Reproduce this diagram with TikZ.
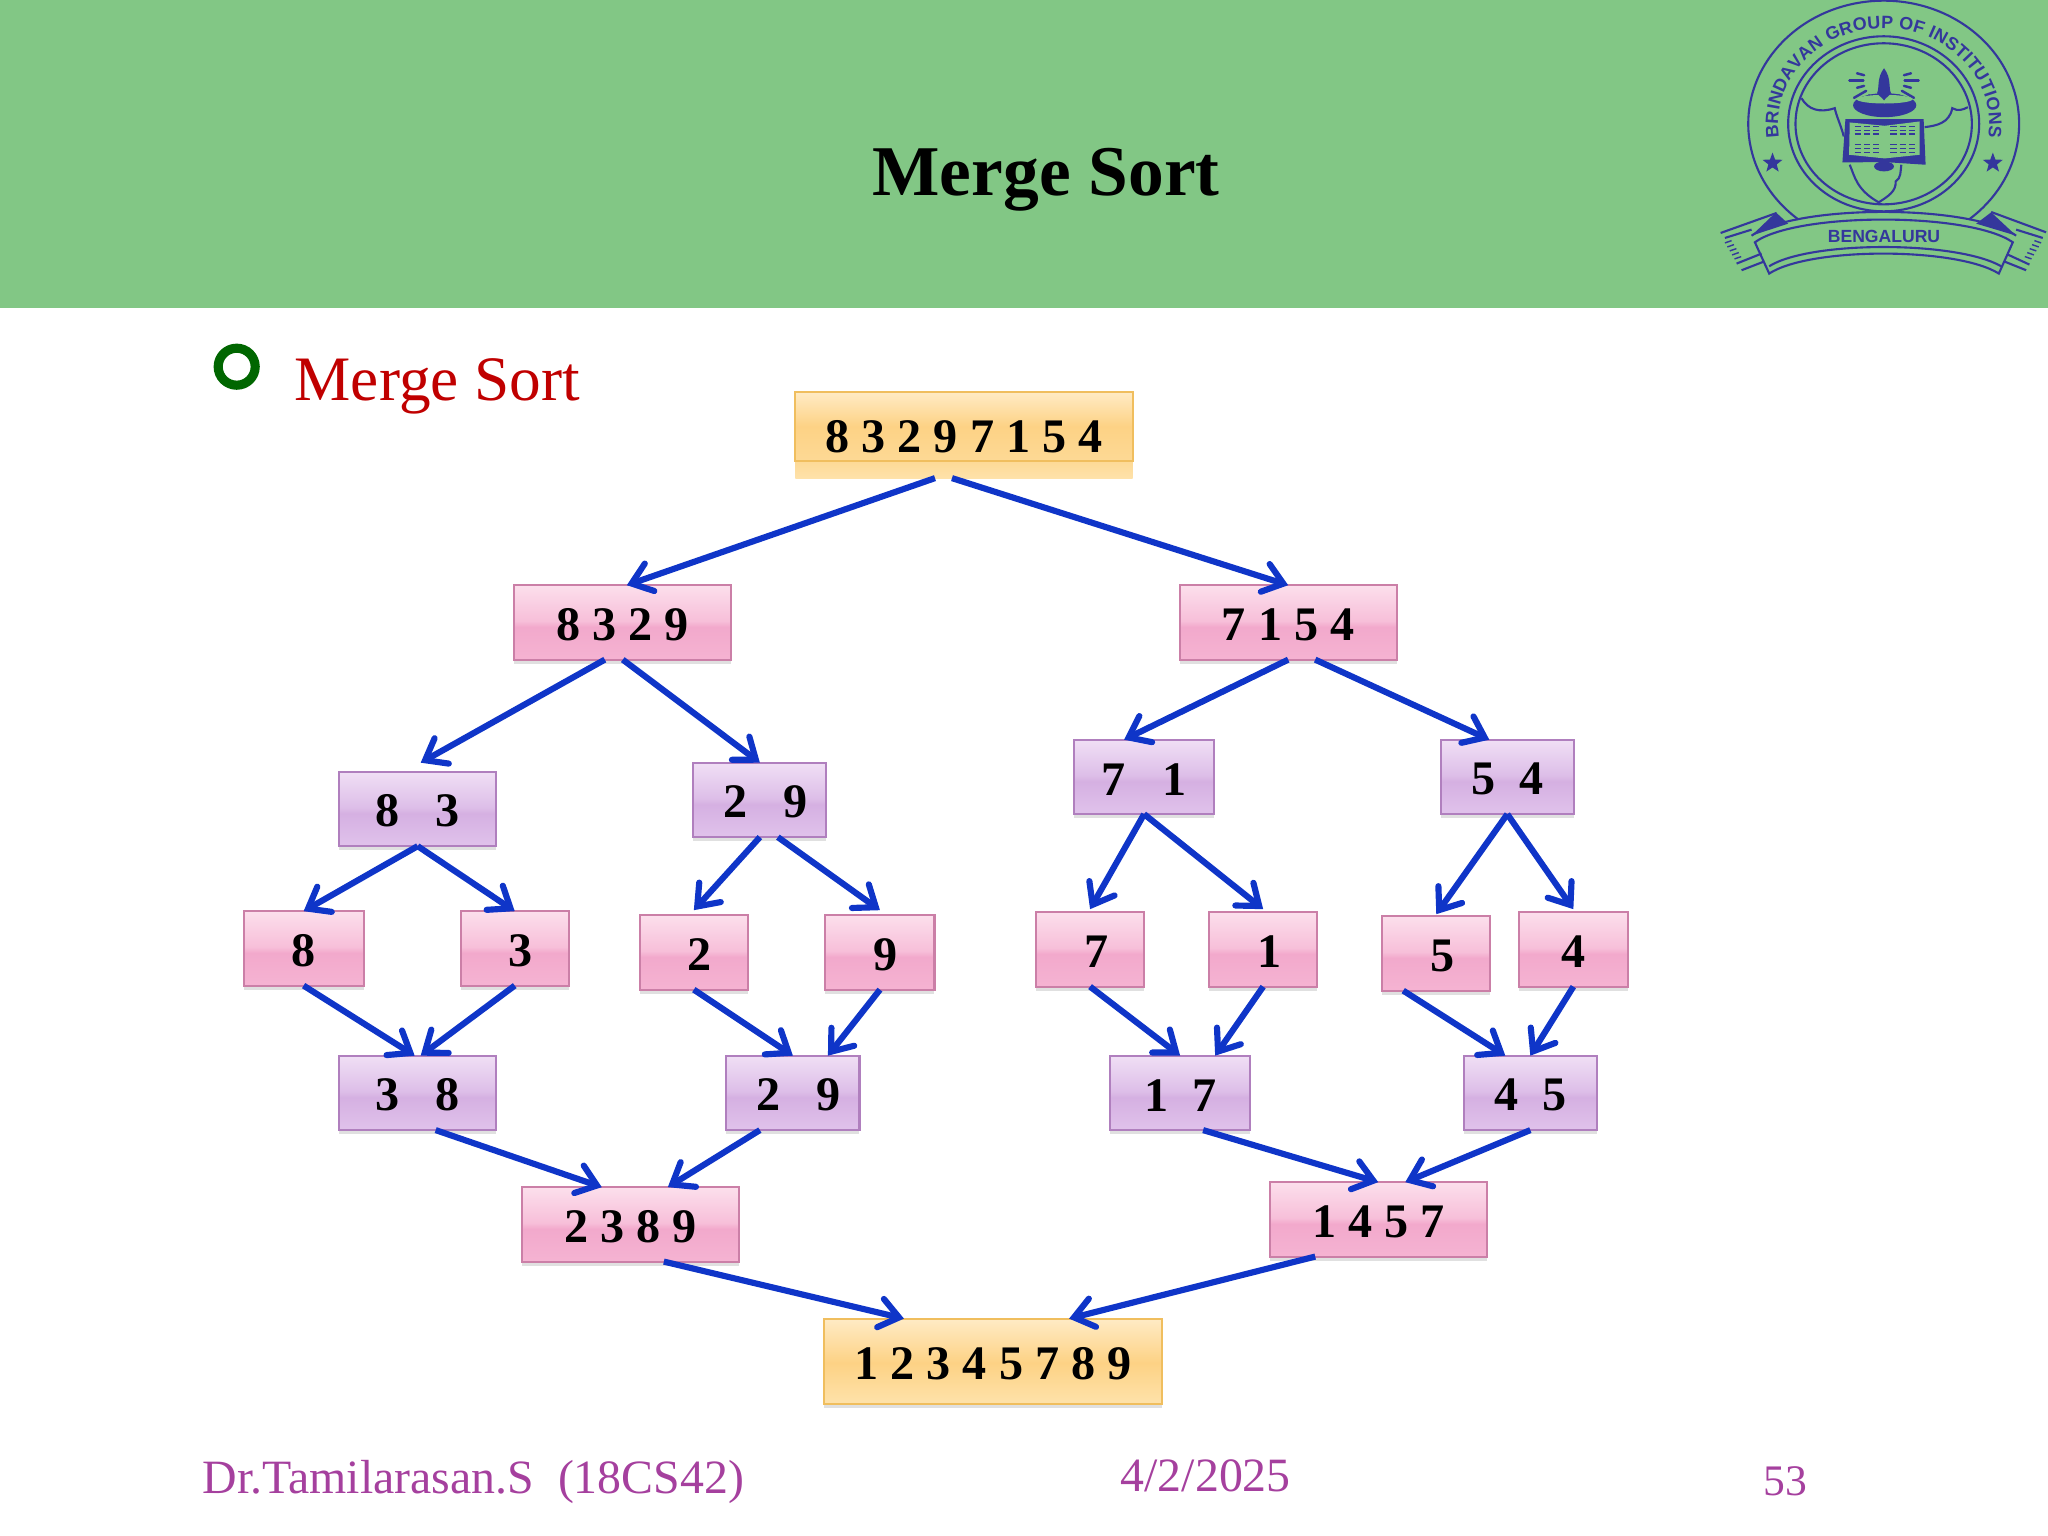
\documentclass[tikz,border=0pt]{standalone}
\usepackage{fontspec}
\setmainfont{Liberation Serif}
\setsansfont{Liberation Sans}
\usetikzlibrary{positioning, arrows.meta, shapes.geometric, shadows, decorations.text}
\definecolor{bandgreen}{HTML}{82C785}
\definecolor{logoblue}{HTML}{34379C}
\definecolor{linkblue}{HTML}{0F35C8}
\definecolor{bulletgreen}{HTML}{006600}
\definecolor{headred}{HTML}{C00000}
\definecolor{footpurple}{HTML}{A5409E}
\definecolor{pinkline}{HTML}{CB7FA7}
\definecolor{purpleline}{HTML}{B07FBE}
\definecolor{orangeline}{HTML}{F0BE5E}
\definecolor{pink0}{HTML}{FCDFEC}
\definecolor{pink1}{HTML}{F7BFD9}
\definecolor{pink2}{HTML}{F2A9CC}
\definecolor{pink3}{HTML}{F5B3D2}
\definecolor{purple0}{HTML}{F0DFF5}
\definecolor{purple1}{HTML}{DDBEE8}
\definecolor{purple2}{HTML}{D5B0E2}
\definecolor{purple3}{HTML}{E0C2EB}
\definecolor{orange0}{HTML}{FFEBC5}
\definecolor{orange1}{HTML}{FDD285}
\definecolor{orange2}{HTML}{FDD995}
\definecolor{orange3}{HTML}{FEE2AA}
\pgfdeclareverticalshading{pinkgloss}{100bp}{color(0bp)=(pink3); color(25bp)=(pink3); color(47bp)=(pink2); color(51bp)=(pink1); color(75bp)=(pink0); color(100bp)=(pink0)}
\pgfdeclareverticalshading{purplegloss}{100bp}{color(0bp)=(purple3); color(25bp)=(purple3); color(47bp)=(purple2); color(51bp)=(purple1); color(75bp)=(purple0); color(100bp)=(purple0)}
\pgfdeclareverticalshading{orangegloss}{100bp}{color(0bp)=(orange3); color(25bp)=(orange3); color(49bp)=(orange1); color(75bp)=(orange0); color(100bp)=(orange0)}
\pgfdeclareverticalshading{stripgloss}{100bp}{color(0bp)=(orange3); color(25bp)=(orange3); color(35bp)=(orange2); color(55bp)=(orange1); color(75bp)=(orange0); color(100bp)=(orange0)}
\tikzset{
  numbox/.style={rectangle, inner sep=0pt, outer sep=0pt, minimum height=0.744cm, line width=0.6pt,
    text height=10.3pt, font=\fontsize{13.7}{16}\selectfont\bfseries},
  softshadow/.style={general shadow={fill=black, opacity=0.12, shadow yshift=-0.04cm}},
  pinkbox/.style={numbox, softshadow, draw=pinkline, shading=pinkgloss},
  purplebox/.style={numbox, softshadow, draw=purpleline, shading=purplegloss},
  orangebox/.style={numbox, softshadow, draw=orangeline, shading=orangegloss, minimum width=3.37cm, minimum height=0.85cm},
  link/.style={->, color=linkblue, line width=1.75pt},
  logoline/.style={draw=logoblue, line width=0.6pt},
  footnode/.style={anchor=base west, text=footpurple, font=\fontsize{13.6}{16}\selectfont}
}
\begin{document}
\begin{tikzpicture}[x=0.01cm, y=-0.01cm, >={Straight Barb[length=1.9mm, width=2.9mm, line cap=round]}]
  \useasboundingbox (0,0) rectangle (2048,1536);
  % Header
  \fill[bandgreen] (0,0) rectangle (2048,308);
  \node[anchor=base, font=\fontsize{20.3}{24}\selectfont\bfseries] (title) at (1046,195) {Merge Sort};
  % Bullet
  \draw[bulletgreen, line width=2.6pt] (236.7,366.7) circle[radius=18.5];
  \node[anchor=base west, inner sep=0pt, text=headred, font=\fontsize{18}{22}\selectfont] (head) at (294,400) {Merge Sort};

  % Logo
  \begin{scope}[shift={(1680,0)}, x=0.00333cm, y=-0.00333cm]
    \draw[logoline] ([shift={(612,372)}]129:407 and 370) arc[start angle=129, end angle=411, x radius=407, y radius=370];
    \draw[logoline] (612,372) ellipse[x radius=287, y radius=263];
    \draw[logoline] (612,372) ellipse[x radius=265, y radius=242];
    \path[decorate, decoration={text along path, text align=fit to path, text color=logoblue,
        text={|\sffamily\bfseries\fontsize{5.1}{6}\selectfont|BRINDAVAN GROUP OF INSTITUTIONS}}]
      ([shift={(612,372)}]172:317 and 287) arc[start angle=172, end angle=368, x radius=317, y radius=287];
    \node[star, star points=5, star point ratio=2.4, fill=logoblue, inner sep=0pt, minimum size=0.21cm] (starl) at (278,490) {};
    \node[star, star points=5, star point ratio=2.4, fill=logoblue, inner sep=0pt, minimum size=0.21cm] (starr) at (940,490) {};
    % map
    \draw[logoline] (365,295) .. controls (385,330) and (420,340) .. (465,325) .. controls (470,350) and (485,380) .. (492,410);
    \draw[logoline] (510,495) .. controls (525,530) and (530,570) .. (597,608) .. controls (625,590) and (650,575) .. (648,545) .. controls (665,535) and (662,515) .. (665,495);
    \draw[logoline] (735,382) .. controls (770,378) and (810,370) .. (818,325) .. controls (835,335) and (850,330) .. (865,322);
    % rays
    \foreach \a in {0,30,...,180}
      \draw[logoline, line width=0.7pt, line cap=round] ([shift={(613,242)}]\a:62) -- ([shift={(613,242)}]\a:104);
    \foreach \a in {-15,15,45,75,105,135,165,195}
      \draw[logoline, line width=0.7pt, line cap=round] ([shift={(613,242)}]\a:62) -- ([shift={(613,242)}]\a:84);
    % lamp
    \fill[logoblue] (615,316) ellipse[x radius=95, y radius=36];
    \fill[bandgreen] (615,298) ellipse[x radius=84, y radius=13];
    \fill[logoblue] (613,205) .. controls (590,235) and (600,265) .. (592,280) .. controls (600,290) and (610,296) .. (613,302) .. controls (616,296) and (626,290) .. (634,280) .. controls (626,265) and (636,235) .. (613,205) -- cycle;
    % book
    \fill[logoblue] (613,500) ellipse[x radius=30, y radius=15];
    \fill[logoblue] (497,358) -- (732,358) -- (738,495) -- (615,487) -- (488,488) -- cycle;
    \fill[bandgreen] (510,368) -- (615,378) -- (720,365) -- (720,465) -- (615,476) -- (508,465) -- cycle;
    \foreach \y in {380,392,403,435,447,458}
      \foreach \x in {525,553,580,632,660,688}
        \draw[logoblue, line width=0.4pt] (\x,\y) -- ++(19,0);
    % ribbon
    \draw[logoline] (225,728) .. controls (350,637) and (870,637) .. (1000,728) -- (958,822) .. controls (830,742) and (390,742) .. (268,822) -- cycle;
    \draw[logoline] (268,800) .. controls (390,723) and (830,723) .. (965,800);
    \draw[logoline] (215,708) .. controls (350,613) and (870,613) .. (1010,708);
    \fill[logoblue] (215,708) -- (288,638) -- (325,672) -- cycle;
    \fill[logoblue] (1010,708) -- (935,638) -- (890,672) -- cycle;
    \draw[logoline] (122,700) -- (290,640);
    \draw[logoline] (135,715) -- (215,690);
    \draw[logoline] (170,792) -- (245,762);
    \draw[logoline] (185,812) -- (252,786);
    \draw[logoline] (1100,698) -- (935,637);
    \draw[logoline] (1090,715) -- (1010,690);
    \draw[logoline] (1050,795) -- (985,765);
    \draw[logoline] (1040,812) -- (975,786);
    \foreach \y in {730,742,754,766,778} {
      \draw[logoblue, line width=0.4pt] ({135+(\y-730)*.6},\y) -- ++(20,-7);
      \draw[logoblue, line width=0.4pt] ({1085-(\y-730)*.6},\y) -- ++(-20,-7);
    }
    \node[font=\sffamily\bfseries\fontsize{5}{6}\selectfont, text=logoblue, inner sep=0pt] (city) at (613,710) {BENGALURU};
  \end{scope}

  % Top array
  \node[numbox, minimum width=3.37cm, minimum height=0.862cm, shading=stripgloss] (ntop) at (964,435) {8 3 2 9 7 1 5 4};
  \draw[orangeline, line width=0.6pt] (ntop.north west) rectangle ([yshift=0.17cm]ntop.south east);
  % Divide
  \node[pinkbox, minimum width=2.17cm, below=1.07cm of ntop, xshift=-3.41cm] (nl) {8 3 2 9};
  \node[pinkbox, minimum width=2.17cm, below=1.07cm of ntop, xshift=3.24cm] (nr) {7 1 5 4};
  \node[purplebox, minimum width=1.57cm, below=1.12cm of nl, xshift=-2.05cm] (nll) {8~~~3};
  \node[purplebox, minimum width=1.33cm, below=1.03cm of nl, xshift=1.37cm] (nlr) {~2~~~9};
  \node[purplebox, minimum width=1.40cm, below=0.80cm of nr, xshift=-1.44cm] (nrl) {7~~~1};
  \node[purplebox, minimum width=1.33cm, below=0.80cm of nr, xshift=2.19cm] (nrr) {5~~4};
  % Single items
  \node[pinkbox, minimum width=1.20cm, below=0.65cm of nll, xshift=-1.14cm] (a8) {8};
  \node[pinkbox, minimum width=1.08cm, below=0.65cm of nll, xshift=0.97cm] (a3) {~3};
  \node[pinkbox, minimum width=1.08cm, below=0.78cm of nlr, xshift=-0.66cm] (a2) {~2};
  \node[pinkbox, minimum width=1.09cm, below=0.78cm of nlr, xshift=1.20cm] (a9) {~9};
  \node[pinkbox, minimum width=1.08cm, below=0.98cm of nrl, xshift=-0.54cm] (a7) {~7};
  \node[pinkbox, minimum width=1.08cm, below=0.98cm of nrl, xshift=1.19cm] (a1) {~1};
  \node[pinkbox, minimum width=1.08cm, below=1.02cm of nrr, xshift=-0.71cm] (a5) {~5};
  \node[pinkbox, minimum width=1.09cm, below=0.98cm of nrr, xshift=0.66cm] (a4) {4};
  % Merge
  \node[purplebox, minimum width=1.57cm, below=0.70cm of a8, xshift=1.14cm] (mll) {3~~~8};
  \node[purplebox, minimum width=1.33cm, below=0.66cm of a2, xshift=0.99cm] (mlr) {~2~~~9};
  \node[purplebox, minimum width=1.40cm, below=0.69cm of a7, xshift=0.90cm] (mrl) {1~~7};
  \node[purplebox, minimum width=1.33cm, below=0.65cm of a5, xshift=0.94cm] (mrr) {4~~5};
  \node[pinkbox, minimum width=2.17cm, below=0.57cm of mll, xshift=2.13cm] (ml) {2 3 8 9};
  \node[pinkbox, minimum width=2.17cm, below=0.52cm of mrr, xshift=-1.52cm] (mr) {1 4 5 7};
  \node[orangebox, below=0.57cm of ml, xshift=3.62cm] (nbot) {1 2 3 4 5 7 8 9};

  % Arrows
  \path[link]
    ([xshift=-0.29cm]ntop.south) edge ([xshift=0.04cm]nl.north)
    ([xshift=-0.12cm]ntop.south) edge (nr.north)
    ([xshift=-0.18cm]nl.south) edge ([xshift=0.03cm,yshift=0.09cm]nll.north)
    (nl.south) edge (nlr.north)
    (nr.south) edge ([xshift=-0.2cm]nrl.north)
    ([xshift=0.27cm]nr.south) edge ([xshift=-0.18cm]nrr.north)
    (nll.south) edge (a8.north)
    (nll.south) edge (a3.north)
    (nlr.south) edge ([yshift=0.05cm]a2.north)
    ([xshift=0.18cm]nlr.south) edge ([yshift=0.05cm]a9.north)
    (nrl.south) edge ([yshift=0.03cm]a7.north)
    (nrl.south) edge ([yshift=0.03cm]a1.north)
    (nrr.south) edge ([yshift=0.02cm]a5.north)
    (nrr.south) edge ([yshift=0.03cm]a4.north)
    (a8.south) edge ([xshift=-0.03cm]mll.north)
    (a3.south) edge ([xshift=0.03cm]mll.north)
    (a2.south) edge (mlr.north)
    (a9.south) edge ([xshift=0.35cm]mlr.north)
    (a7.south) edge (mrl.north)
    (a1.south) edge ([xshift=0.35cm]mrl.north)
    ([xshift=-0.33cm]a5.south) edge ([xshift=-0.25cm]mrr.north)
    (a4.south) edge (mrr.north)
    ([xshift=0.18cm]mll.south) edge ([xshift=-0.29cm]ml.north)
    ([xshift=-0.33cm]mlr.south) edge ([xshift=0.37cm]ml.north)
    ([xshift=0.23cm]mrl.south) edge (mr.north)
    (mrr.south) edge ([xshift=0.27cm]mr.north)
    ([xshift=0.33cm]ml.south) edge ([xshift=-0.89cm]nbot.north)
    ([xshift=-0.63cm]mr.south) edge ([xshift=0.76cm]nbot.north);

  % Footer
  \node[footnode, inner sep=0pt] (fname) at (202,1493) {Dr.Tamilarasan.S~~(18CS42)};
  \node[footnode, inner sep=0pt] (fdate) at (1120,1491) {4/2/2025};
  \node[footnode, inner sep=0pt, font=\fontsize{12.4}{16}\selectfont] (fpage) at (1763,1495) {53};
\end{tikzpicture}
\end{document}
